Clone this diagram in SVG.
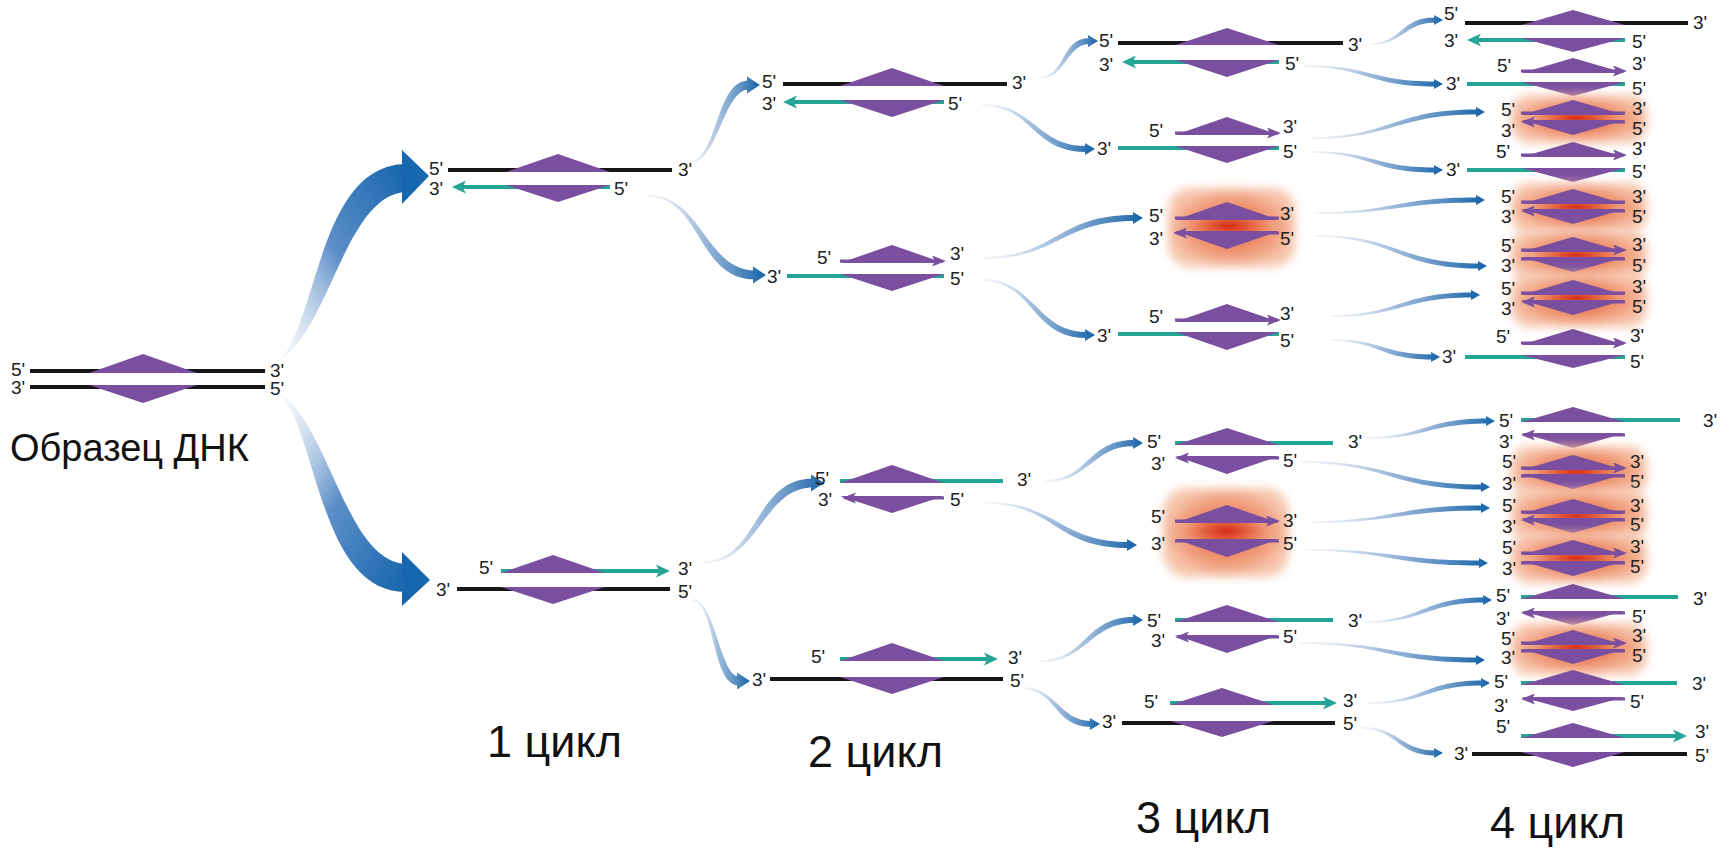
<svg xmlns="http://www.w3.org/2000/svg" width="1725" height="850" viewBox="0 0 1725 850">
<defs>
<style>
.bk{stroke:#161616;stroke-width:4}
.tl{stroke:#25a596;stroke-width:4}
.pl{stroke:#7b4f9f;stroke-width:3}
.pu{fill:#7b4f9f}
.lb{font-family:'Liberation Sans',Arial,sans-serif;font-size:19px;fill:#222}
.big{font-family:'Liberation Sans',Arial,sans-serif;fill:#111}
.sw{fill:url(#sw)}
.halo{fill:url(#haloFill);filter:url(#soft)}
.core{fill:url(#coreFill)}
</style>
<linearGradient id="sw" x1="0" y1="0" x2="1" y2="0">
<stop offset="0" stop-color="#c9d6e6" stop-opacity="0.2"/>
<stop offset="0.45" stop-color="#88aad3" stop-opacity="0.8"/>
<stop offset="1" stop-color="#1462a8"/>
</linearGradient>
<linearGradient id="swUp" x1="0" y1="1" x2="1" y2="0">
<stop offset="0" stop-color="#dfe8f3" stop-opacity="0.2"/>
<stop offset="0.5" stop-color="#5d8fc8"/>
<stop offset="1" stop-color="#1565ad"/>
</linearGradient>
<linearGradient id="swDn" x1="0" y1="0" x2="1" y2="1">
<stop offset="0" stop-color="#dfe8f3" stop-opacity="0.2"/>
<stop offset="0.5" stop-color="#5d8fc8"/>
<stop offset="1" stop-color="#1565ad"/>
</linearGradient>
<radialGradient id="haloFill" cx="0.5" cy="0.5" r="0.5">
<stop offset="0" stop-color="#e0502f"/>
<stop offset="0.45" stop-color="#ec8660"/>
<stop offset="0.85" stop-color="#f3ad8f"/>
<stop offset="1" stop-color="#f7c6ae"/>
</radialGradient>
<radialGradient id="coreFill" cx="0.5" cy="0.5" r="0.5">
<stop offset="0" stop-color="#d42814" stop-opacity="0.9"/>
<stop offset="1" stop-color="#e45a36" stop-opacity="0"/>
</radialGradient>
<filter id="soft" x="-20%" y="-30%" width="140%" height="160%">
<feGaussianBlur stdDeviation="5"/>
</filter>
<marker id="at" markerUnits="userSpaceOnUse" viewBox="0 0 14 13" markerWidth="14" markerHeight="13" refX="5" refY="6.5" orient="auto">
<path d="M0,0 L14,6.5 L0,13 L3.5,6.5 Z" fill="#25a596"/>
</marker>
<marker id="ap" markerUnits="userSpaceOnUse" viewBox="0 0 14 11" markerWidth="14" markerHeight="11" refX="5" refY="5.5" orient="auto">
<path d="M0,0 L14,5.5 L0,11 L3,5.5 Z" fill="#7b4f9f"/>
</marker>
</defs>
<rect width="1725" height="850" fill="#ffffff"/>

<!-- connectors -->
<g id="connectors">
<path fill="url(#swUp)" d="M278,362 C318,325 318,165 406,164 L406,192 C345,195 330,330 278,362 Z"/>
<path fill="#1767ae" d="M402,150 L429,176 L402,204 Z"/>
<path fill="url(#swDn)" d="M278,392 C318,429 318,592 406,592 L406,564 C345,561 330,424 278,392 Z"/>
<path fill="#1767ae" d="M402,552 L430,580 L402,606 Z"/>

<path class="sw" d="M688,162 C718.5,162 714,80.5 749,80.5 L749,89.5 C723,89.5 718.5,164 688,164 Z M747,76.5 L760,85 L747,93.5 Z"/>
<path class="sw" d="M648,195 C701.5,195 706,270.5 755,270.5 L755,279.5 C697,279.5 701.5,197 648,197 Z M753,266.5 L766,275 L753,283.5 Z"/>
<path class="sw" d="M704,561 C758.5,561 754,478.5 813,478.5 L813,487.5 C763,487.5 758.5,563 704,563 Z M811,474.5 L824,483 L811,491.5 Z"/>
<path class="sw" d="M692,599 C715.5,599 720,676.5 739,676.5 L739,685.5 C711,685.5 715.5,601 692,601 Z M737,672.5 L750,681 L737,689.5 Z"/>

<path class="sw" d="M1040,77 C1064.5,77 1061.5,38 1089,38 L1089,44 C1067.5,44 1064.5,79 1040,79 Z M1088,35 L1098,41 L1088,47 Z"/>
<path class="sw" d="M982,104 C1034,104 1037,146 1086,146 L1086,152 C1031,152 1034,106 982,106 Z M1085,143 L1095,149 L1085,155 Z"/>
<path class="sw" d="M982,257 C1058,257 1055,215 1134,215 L1134,221 C1061,221 1058,259 982,259 Z M1133,212 L1143,218 L1133,224 Z"/>
<path class="sw" d="M982,279 C1034,279 1037,332 1086,332 L1086,338 C1031,338 1034,281 982,281 Z M1085,329 L1095,335 L1085,341 Z"/>
<path class="sw" d="M1045,480 C1089.5,480 1086.5,440 1134,440 L1134,446 C1092.5,446 1089.5,482 1045,482 Z M1133,437 L1143,443 L1133,449 Z"/>
<path class="sw" d="M985,502 C1056.5,502 1059.5,542 1128,542 L1128,548 C1053.5,548 1056.5,504 985,504 Z M1127,539 L1137,545 L1127,551 Z"/>
<path class="sw" d="M1040,660 C1087,660 1084,617 1134,617 L1134,623 C1090,623 1087,662 1040,662 Z M1133,614 L1143,620 L1133,626 Z"/>
<path class="sw" d="M1022,687 C1056.5,687 1059.5,721 1091,721 L1091,727 C1053.5,727 1056.5,689 1022,689 Z M1090,718 L1100,724 L1090,730 Z"/>

<path class="sw" d="M1370,43 C1402.5,43 1400,17.5 1435,17.5 L1435,22.5 C1405,22.5 1402.5,45 1370,45 Z M1434,15 L1443,20 L1434,25 Z"/>
<path class="sw" d="M1303,65 C1369,65 1371.5,81.5 1435,81.5 L1435,86.5 C1366.5,86.5 1369,67 1303,67 Z M1434,79 L1443,84 L1434,89 Z"/>
<path class="sw" d="M1310,137 C1393.5,137 1391,109.5 1477,109.5 L1477,114.5 C1396,114.5 1393.5,139 1310,139 Z M1476,107 L1485,112 L1476,117 Z"/>
<path class="sw" d="M1310,151 C1372.5,151 1375,167.5 1435,167.5 L1435,172.5 C1370,172.5 1372.5,153 1310,153 Z M1434,165 L1443,170 L1434,175 Z"/>
<path class="sw" d="M1315,212 C1396,212 1393.5,197.5 1477,197.5 L1477,202.5 C1398.5,202.5 1396,214 1315,214 Z M1476,195 L1485,200 L1476,205 Z"/>
<path class="sw" d="M1315,235 C1397,235 1399.5,263.5 1479,263.5 L1479,268.5 C1394.5,268.5 1397,237 1315,237 Z M1478,261 L1487,266 L1478,271 Z"/>
<path class="sw" d="M1330,315 C1401,315 1398.5,292.5 1472,292.5 L1472,297.5 C1403.5,297.5 1401,317 1330,317 Z M1471,290 L1480,295 L1471,300 Z"/>
<path class="sw" d="M1330,339 C1381,339 1383.5,354.5 1432,354.5 L1432,359.5 C1378.5,359.5 1381,341 1330,341 Z M1431,352 L1440,357 L1431,362 Z"/>
<path class="sw" d="M1365,437 C1426,437 1423.5,418.5 1487,418.5 L1487,423.5 C1428.5,423.5 1426,439 1365,439 Z M1486,416 L1495,421 L1486,426 Z"/>
<path class="sw" d="M1300,461 C1391,461 1393.5,484.5 1482,484.5 L1482,489.5 C1388.5,489.5 1391,463 1300,463 Z M1481,482 L1490,487 L1481,492 Z"/>
<path class="sw" d="M1310,521 C1396,521 1393.5,505.5 1482,505.5 L1482,510.5 C1398.5,510.5 1396,523 1310,523 Z M1481,503 L1490,508 L1481,513 Z"/>
<path class="sw" d="M1305,549 C1392.5,549 1395,560.5 1480,560.5 L1480,565.5 C1390,565.5 1392.5,551 1305,551 Z M1479,558 L1488,563 L1479,568 Z"/>
<path class="sw" d="M1364,621 C1424,621 1421.5,597.5 1484,597.5 L1484,602.5 C1426.5,602.5 1424,623 1364,623 Z M1483,595 L1492,600 L1483,605 Z"/>
<path class="sw" d="M1300,642 C1388.5,642 1391,657.5 1477,657.5 L1477,662.5 C1386,662.5 1388.5,644 1300,644 Z M1476,655 L1485,660 L1476,665 Z"/>
<path class="sw" d="M1368,702 C1425,702 1422.5,680.5 1482,680.5 L1482,685.5 C1427.5,685.5 1425,704 1368,704 Z M1481,678 L1490,683 L1481,688 Z"/>
<path class="sw" d="M1362,727 C1398.5,727 1401,750.5 1435,750.5 L1435,755.5 C1396,755.5 1398.5,729 1362,729 Z M1434,748 L1443,753 L1434,758 Z"/>
</g>

<!-- starting sample -->
<g id="sample">
<line class="bk" x1="30" y1="371" x2="265" y2="371"/>
<line class="bk" x1="30" y1="387" x2="265" y2="387"/>
<polygon class="pu" points="89,373 143,354 197,373"/>
<polygon class="pu" points="89,385 143,403 197,385"/>
<text class="lb" x="11" y="376">5'</text><text class="lb" x="11" y="394">3'</text>
<text class="lb" x="270" y="377">3'</text><text class="lb" x="270" y="395">5'</text>
<text class="big" x="10" y="461" font-size="38">Образец ДНК</text>
</g>

<!-- cycle 1 -->
<g id="c1a">
<line class="bk" x1="448" y1="170" x2="672" y2="170"/>
<line class="tl" x1="610" y1="187" x2="461" y2="187" marker-end="url(#at)"/>
<polygon class="pu" points="506,172 558,154 610,172"/>
<polygon class="pu" points="506,185 558,202 610,185"/>
<text class="lb" x="429" y="175">5'</text><text class="lb" x="429" y="195">3'</text>
<text class="lb" x="678" y="176">3'</text><text class="lb" x="614" y="195">5'</text>
</g>
<g id="c1b">
<line class="tl" x1="501" y1="571" x2="661" y2="571" marker-end="url(#at)"/>
<line class="bk" x1="457" y1="589" x2="670" y2="589"/>
<polygon class="pu" points="501,573 553,555 605,573"/>
<polygon class="pu" points="501,587 553,604 605,587"/>
<text class="lb" x="479" y="574">5'</text><text class="lb" x="678" y="575">3'</text>
<text class="lb" x="436" y="596">3'</text><text class="lb" x="678" y="598">5'</text>
</g>
<text class="big" x="487" y="757" font-size="45">1 цикл</text>

<!-- cycle 2 -->
<g id="c2a">
<line class="bk" x1="783" y1="84" x2="1007" y2="84"/>
<line class="tl" x1="944" y1="102" x2="792" y2="102" marker-end="url(#at)"/>
<polygon class="pu" points="840,86 892,68 944,86"/>
<polygon class="pu" points="840,100 892,117 944,100"/>
<text class="lb" x="762" y="88">5'</text><text class="lb" x="762" y="110">3'</text>
<text class="lb" x="1012" y="89">3'</text><text class="lb" x="948" y="110">5'</text>
</g>
<g id="c2b">
<line class="pl" x1="840" y1="261" x2="937" y2="261" marker-end="url(#ap)"/>
<line class="tl" x1="787" y1="276" x2="944" y2="276"/>
<polygon class="pu" points="840,263 892,245 944,263"/>
<polygon class="pu" points="840,274 892,291 944,274"/>
<text class="lb" x="817" y="264">5'</text><text class="lb" x="767" y="283">3'</text>
<text class="lb" x="950" y="260">3'</text><text class="lb" x="950" y="285">5'</text>
</g>
<g id="c2c">
<line class="tl" x1="840" y1="481" x2="1003" y2="481"/>
<line class="pl" x1="944" y1="498" x2="851" y2="498" marker-end="url(#ap)"/>
<polygon class="pu" points="840,483 892,465 944,483"/>
<polygon class="pu" points="840,496 892,513 944,496"/>
<text class="lb" x="815" y="485">5'</text><text class="lb" x="1017" y="486">3'</text>
<text class="lb" x="818" y="506">3'</text><text class="lb" x="950" y="506">5'</text>
</g>
<g id="c2d">
<line class="tl" x1="840" y1="659" x2="989" y2="659" marker-end="url(#at)"/>
<line class="bk" x1="770" y1="679" x2="1003" y2="679"/>
<polygon class="pu" points="840,661 892,643 944,661"/>
<polygon class="pu" points="840,677 892,694 944,677"/>
<text class="lb" x="811" y="663">5'</text><text class="lb" x="1008" y="664">3'</text>
<text class="lb" x="752" y="686">3'</text><text class="lb" x="1010" y="687">5'</text>
</g>
<text class="big" x="808" y="767" font-size="45">2 цикл</text>

<!-- cycle 3 -->
<g id="c3a">
<line class="bk" x1="1118" y1="43" x2="1343" y2="43"/>
<line class="tl" x1="1279" y1="62" x2="1131" y2="62" marker-end="url(#at)"/>
<polygon class="pu" points="1175,45 1227,28 1279,45"/>
<polygon class="pu" points="1175,60 1227,77 1279,60"/>
<text class="lb" x="1099" y="47">5'</text><text class="lb" x="1099" y="71">3'</text>
<text class="lb" x="1348" y="51">3'</text><text class="lb" x="1285" y="70">5'</text>
</g>
<g id="c3b">
<line class="pl" x1="1175" y1="133" x2="1272" y2="133" marker-end="url(#ap)"/>
<line class="tl" x1="1118" y1="148" x2="1279" y2="148"/>
<polygon class="pu" points="1175,135 1227,117 1279,135"/>
<polygon class="pu" points="1175,146 1227,163 1279,146"/>
<text class="lb" x="1149" y="137">5'</text><text class="lb" x="1097" y="155">3'</text>
<text class="lb" x="1283" y="133">3'</text><text class="lb" x="1283" y="158">5'</text>
</g>
<g id="c3c">
<rect class="halo" x="1168" y="188" width="127" height="79" rx="22"/>
<ellipse class="core" cx="1228" cy="226" rx="42" ry="13"/>
<line class="pl" x1="1175" y1="218" x2="1279" y2="218"/>
<line class="pl" x1="1279" y1="233" x2="1182" y2="233" marker-end="url(#ap)"/>
<polygon class="pu" points="1175,220 1227,202 1279,220"/>
<polygon class="pu" points="1175,231 1227,249 1279,231"/>
<text class="lb" x="1149" y="222">5'</text><text class="lb" x="1149" y="245">3'</text>
<text class="lb" x="1280" y="220">3'</text><text class="lb" x="1280" y="245">5'</text>
</g>
<g id="c3d">
<line class="pl" x1="1175" y1="320" x2="1272" y2="320" marker-end="url(#ap)"/>
<line class="tl" x1="1118" y1="334" x2="1279" y2="334"/>
<polygon class="pu" points="1175,322 1227,304 1279,322"/>
<polygon class="pu" points="1175,332 1227,350 1279,332"/>
<text class="lb" x="1149" y="323">5'</text><text class="lb" x="1097" y="342">3'</text>
<text class="lb" x="1280" y="320">3'</text><text class="lb" x="1280" y="347">5'</text>
</g>
<g id="c3e">
<line class="tl" x1="1175" y1="443" x2="1333" y2="443"/>
<line class="pl" x1="1279" y1="458" x2="1184" y2="458" marker-end="url(#ap)"/>
<polygon class="pu" points="1175,445 1227,428 1279,445"/>
<polygon class="pu" points="1175,456 1227,474 1279,456"/>
<text class="lb" x="1147" y="448">5'</text><text class="lb" x="1348" y="448">3'</text>
<text class="lb" x="1151" y="470">3'</text><text class="lb" x="1283" y="467">5'</text>
</g>
<g id="c3f">
<rect class="halo" x="1163" y="488" width="126" height="89" rx="24"/>
<ellipse class="core" cx="1226" cy="531" rx="42" ry="14"/>
<line class="pl" x1="1175" y1="521" x2="1271" y2="521" marker-end="url(#ap)"/>
<line class="pl" x1="1175" y1="541" x2="1279" y2="541"/>
<polygon class="pu" points="1175,523 1227,505 1279,523"/>
<polygon class="pu" points="1175,539 1227,557 1279,539"/>
<text class="lb" x="1151" y="523">5'</text><text class="lb" x="1151" y="550">3'</text>
<text class="lb" x="1283" y="527">3'</text><text class="lb" x="1283" y="550">5'</text>
</g>
<g id="c3g">
<line class="tl" x1="1175" y1="620" x2="1333" y2="620"/>
<line class="pl" x1="1279" y1="637" x2="1184" y2="637" marker-end="url(#ap)"/>
<polygon class="pu" points="1175,622 1227,605 1279,622"/>
<polygon class="pu" points="1175,635 1227,653 1279,635"/>
<text class="lb" x="1147" y="627">5'</text><text class="lb" x="1348" y="627">3'</text>
<text class="lb" x="1151" y="647">3'</text><text class="lb" x="1283" y="643">5'</text>
</g>
<g id="c3h">
<line class="tl" x1="1170" y1="703" x2="1328" y2="703" marker-end="url(#at)"/>
<line class="bk" x1="1122" y1="723" x2="1335" y2="723"/>
<polygon class="pu" points="1170,705 1222,688 1274,705"/>
<polygon class="pu" points="1170,721 1222,737 1274,721"/>
<text class="lb" x="1144" y="708">5'</text><text class="lb" x="1343" y="707">3'</text>
<text class="lb" x="1102" y="728">3'</text><text class="lb" x="1343" y="730">5'</text>
</g>
<text class="big" x="1136" y="833" font-size="45">3 цикл</text>

<!-- cycle 4 -->
<g id="c4a">
<line class="bk" x1="1465" y1="23" x2="1688" y2="23"/>
<line class="tl" x1="1625" y1="40" x2="1476" y2="40" marker-end="url(#at)"/>
<polygon class="pu" points="1521,25 1573,10 1625,25"/>
<polygon class="pu" points="1521,38 1573,52 1625,38"/>
<text class="lb" x="1444" y="20">5'</text><text class="lb" x="1444" y="47">3'</text>
<text class="lb" x="1693" y="29">3'</text><text class="lb" x="1632" y="48">5'</text>
</g>
<g id="c4b">
<line class="pl" x1="1521" y1="71" x2="1618" y2="71" marker-end="url(#ap)"/>
<line class="tl" x1="1467" y1="84" x2="1625" y2="84"/>
<polygon class="pu" points="1521,73 1573,58 1625,73"/>
<polygon class="pu" points="1521,82 1573,96 1625,82"/>
<text class="lb" x="1497" y="72">5'</text><text class="lb" x="1446" y="90">3'</text>
<text class="lb" x="1632" y="70">3'</text><text class="lb" x="1632" y="95">5'</text>
</g>
<g id="c4c">
<rect class="halo" x="1511" y="95" width="136" height="48" rx="18"/>
<ellipse class="core" cx="1576" cy="118" rx="42" ry="9"/>
<line class="pl" x1="1521" y1="113" x2="1625" y2="113"/>
<line class="pl" x1="1625" y1="122" x2="1530" y2="122" marker-end="url(#ap)"/>
<polygon class="pu" points="1521,115 1573,100 1625,115"/>
<polygon class="pu" points="1521,120 1573,135 1625,120"/>
<text class="lb" x="1501" y="116">5'</text><text class="lb" x="1501" y="137">3'</text>
<text class="lb" x="1632" y="115">3'</text><text class="lb" x="1632" y="135">5'</text>
</g>
<g id="c4d">
<line class="pl" x1="1521" y1="155" x2="1618" y2="155" marker-end="url(#ap)"/>
<line class="tl" x1="1467" y1="170" x2="1625" y2="170"/>
<polygon class="pu" points="1521,157 1573,142 1625,157"/>
<polygon class="pu" points="1521,168 1573,182 1625,168"/>
<text class="lb" x="1496" y="158">5'</text><text class="lb" x="1446" y="176">3'</text>
<text class="lb" x="1632" y="155">3'</text><text class="lb" x="1632" y="178">5'</text>
</g>
<g id="c4e">
<rect class="halo" x="1511" y="183" width="136" height="50" rx="18"/>
<ellipse class="core" cx="1576" cy="207" rx="42" ry="9"/>
<line class="pl" x1="1521" y1="202" x2="1625" y2="202"/>
<line class="pl" x1="1625" y1="211" x2="1530" y2="211" marker-end="url(#ap)"/>
<polygon class="pu" points="1521,204 1573,189 1625,204"/>
<polygon class="pu" points="1521,209 1573,224 1625,209"/>
<text class="lb" x="1501" y="203">5'</text><text class="lb" x="1501" y="223">3'</text>
<text class="lb" x="1632" y="203">3'</text><text class="lb" x="1632" y="223">5'</text>
</g>
<g id="c4f">
<rect class="halo" x="1511" y="230" width="136" height="50" rx="18"/>
<ellipse class="core" cx="1576" cy="255" rx="42" ry="9"/>
<line class="pl" x1="1521" y1="250" x2="1618" y2="250" marker-end="url(#ap)"/>
<line class="pl" x1="1521" y1="259" x2="1625" y2="259"/>
<polygon class="pu" points="1521,252 1573,237 1625,252"/>
<polygon class="pu" points="1521,257 1573,272 1625,257"/>
<text class="lb" x="1501" y="252">5'</text><text class="lb" x="1501" y="272">3'</text>
<text class="lb" x="1632" y="251">3'</text><text class="lb" x="1632" y="272">5'</text>
</g>
<g id="c4g">
<rect class="halo" x="1511" y="273" width="136" height="54" rx="18"/>
<ellipse class="core" cx="1576" cy="298" rx="42" ry="9"/>
<line class="pl" x1="1521" y1="293" x2="1625" y2="293"/>
<line class="pl" x1="1625" y1="302" x2="1530" y2="302" marker-end="url(#ap)"/>
<polygon class="pu" points="1521,295 1573,280 1625,295"/>
<polygon class="pu" points="1521,300 1573,315 1625,300"/>
<text class="lb" x="1501" y="295">5'</text><text class="lb" x="1501" y="315">3'</text>
<text class="lb" x="1632" y="293">3'</text><text class="lb" x="1632" y="313">5'</text>
</g>
<g id="c4h">
<line class="pl" x1="1521" y1="343" x2="1618" y2="343" marker-end="url(#ap)"/>
<line class="tl" x1="1465" y1="357" x2="1625" y2="357"/>
<polygon class="pu" points="1521,345 1573,329 1625,345"/>
<polygon class="pu" points="1521,355 1573,368 1625,355"/>
<text class="lb" x="1496" y="343">5'</text><text class="lb" x="1442" y="363">3'</text>
<text class="lb" x="1630" y="342">3'</text><text class="lb" x="1630" y="368">5'</text>
</g>
<g id="c4i">
<line class="tl" x1="1521" y1="420" x2="1680" y2="420"/>
<line class="pl" x1="1625" y1="435" x2="1530" y2="435" marker-end="url(#ap)"/>
<polygon class="pu" points="1521,422 1573,407 1625,422"/>
<polygon class="pu" points="1521,433 1573,448 1625,433"/>
<text class="lb" x="1499" y="427">5'</text><text class="lb" x="1703" y="427">3'</text>
<text class="lb" x="1499" y="448">3'</text>
</g>
<g id="c4j">
<rect class="halo" x="1511" y="446" width="136" height="50" rx="18"/>
<ellipse class="core" cx="1576" cy="472" rx="42" ry="9"/>
<line class="pl" x1="1521" y1="468" x2="1618" y2="468" marker-end="url(#ap)"/>
<line class="pl" x1="1521" y1="476" x2="1625" y2="476"/>
<polygon class="pu" points="1521,470 1573,455 1625,470"/>
<polygon class="pu" points="1521,474 1573,489 1625,474"/>
<text class="lb" x="1502" y="468">5'</text><text class="lb" x="1502" y="490">3'</text>
<text class="lb" x="1630" y="468">3'</text><text class="lb" x="1630" y="488">5'</text>
</g>
<g id="c4k">
<rect class="halo" x="1511" y="490" width="136" height="50" rx="18"/>
<ellipse class="core" cx="1576" cy="516" rx="42" ry="9"/>
<line class="pl" x1="1521" y1="512" x2="1625" y2="512"/>
<line class="pl" x1="1625" y1="520" x2="1530" y2="520" marker-end="url(#ap)"/>
<polygon class="pu" points="1521,514 1573,499 1625,514"/>
<polygon class="pu" points="1521,518 1573,533 1625,518"/>
<text class="lb" x="1502" y="512">5'</text><text class="lb" x="1502" y="533">3'</text>
<text class="lb" x="1630" y="512">3'</text><text class="lb" x="1630" y="531">5'</text>
</g>
<g id="c4l">
<rect class="halo" x="1511" y="533" width="136" height="50" rx="18"/>
<ellipse class="core" cx="1576" cy="558" rx="42" ry="9"/>
<line class="pl" x1="1521" y1="553" x2="1618" y2="553" marker-end="url(#ap)"/>
<line class="pl" x1="1521" y1="563" x2="1625" y2="563"/>
<polygon class="pu" points="1521,555 1573,540 1625,555"/>
<polygon class="pu" points="1521,561 1573,576 1625,561"/>
<text class="lb" x="1502" y="554">5'</text><text class="lb" x="1502" y="575">3'</text>
<text class="lb" x="1630" y="553">3'</text><text class="lb" x="1630" y="573">5'</text>
</g>
<g id="c4m">
<line class="tl" x1="1521" y1="597" x2="1678" y2="597"/>
<line class="pl" x1="1625" y1="613" x2="1530" y2="613" marker-end="url(#ap)"/>
<polygon class="pu" points="1521,599 1573,584 1625,599"/>
<polygon class="pu" points="1521,611 1573,625 1625,611"/>
<text class="lb" x="1496" y="602">5'</text><text class="lb" x="1693" y="605">3'</text>
<text class="lb" x="1496" y="625">3'</text><text class="lb" x="1632" y="623">5'</text>
</g>
<g id="c4n">
<rect class="halo" x="1511" y="623" width="136" height="52" rx="18"/>
<ellipse class="core" cx="1576" cy="647" rx="42" ry="9"/>
<line class="pl" x1="1521" y1="643" x2="1618" y2="643" marker-end="url(#ap)"/>
<line class="pl" x1="1521" y1="651" x2="1625" y2="651"/>
<polygon class="pu" points="1521,645 1573,630 1625,645"/>
<polygon class="pu" points="1521,649 1573,664 1625,649"/>
<text class="lb" x="1501" y="645">5'</text><text class="lb" x="1501" y="664">3'</text>
<text class="lb" x="1632" y="642">3'</text><text class="lb" x="1632" y="662">5'</text>
</g>
<g id="c4o">
<line class="tl" x1="1521" y1="683" x2="1677" y2="683"/>
<line class="pl" x1="1625" y1="699" x2="1530" y2="699" marker-end="url(#ap)"/>
<polygon class="pu" points="1521,685 1573,670 1625,685"/>
<polygon class="pu" points="1521,697 1573,711 1625,697"/>
<text class="lb" x="1494" y="688">5'</text><text class="lb" x="1692" y="690">3'</text>
<text class="lb" x="1494" y="712">3'</text><text class="lb" x="1630" y="708">5'</text>
</g>
<g id="c4p">
<line class="tl" x1="1521" y1="736" x2="1678" y2="736" marker-end="url(#at)"/>
<line class="bk" x1="1472" y1="754" x2="1687" y2="754"/>
<polygon class="pu" points="1521,738 1573,723 1625,738"/>
<polygon class="pu" points="1521,752 1573,767 1625,752"/>
<text class="lb" x="1496" y="733">5'</text><text class="lb" x="1695" y="738">3'</text>
<text class="lb" x="1454" y="760">3'</text><text class="lb" x="1695" y="762">5'</text>
</g>
<text class="big" x="1490" y="838" font-size="45">4 цикл</text>
</svg>
